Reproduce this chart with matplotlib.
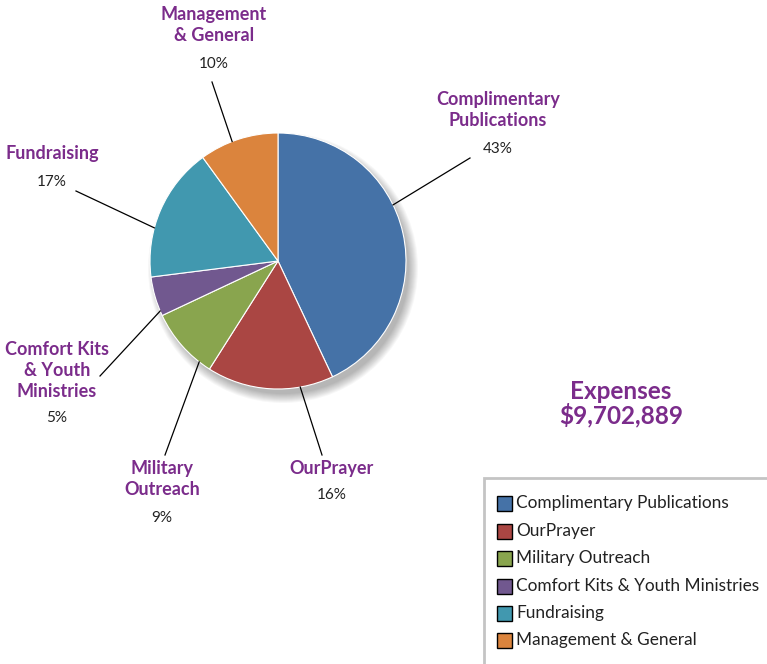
import matplotlib
matplotlib.use("Agg")
import numpy as np
import matplotlib.pyplot as plt
from matplotlib.patches import Circle, Rectangle

W, H = 767, 664

categories = ["Complimentary Publications", "OurPrayer", "Military Outreach",
              "Comfort Kits & Youth Ministries", "Fundraising", "Management & General"]
percents = [43, 16, 9, 5, 17, 10]
callout_names = ["Complimentary\nPublications", "OurPrayer", "Military\nOutreach",
                 "Comfort Kits\n& Youth\nMinistries", "Fundraising", "Management\n& General"]
colors = ["#4572A7", "#AA4643", "#89A54E", "#71588F", "#4198AF", "#DB843D"]
total_label = "Expenses\n$9,702,889"

PURPLE = "#7B2C8B"
plt.rcParams["font.family"] = ["Lato", "DejaVu Sans"]


def px(x, y):
    # image pixel coords (y down) -> axes data coords (y up)
    return x, H - y


fig = plt.figure(figsize=(W / 100, H / 100), dpi=100)
ax = fig.add_axes([0, 0, 1, 1])

cx, cy = px(278, 261)
r = 128

# soft drop shadow behind the pie
for k in range(10):
    ax.add_patch(Circle((cx + 5, cy - 7), r + 7 - k, color="black",
                        alpha=0.03, lw=0, zorder=1))

wedges, _ = ax.pie(percents, colors=colors, startangle=90, counterclock=False,
                   center=(cx, cy), radius=r, frame=True,
                   wedgeprops=dict(edgecolor="white", linewidth=0.8, zorder=2))
ax.set_xlim(0, W)
ax.set_ylim(0, H)
ax.set_aspect("equal")
ax.set_axis_off()

# name block top (pixels), percent y, leader start (pixels),
# rim angle where the leader touches (degrees clockwise from 12 o'clock)
layout = [
    ((498, 91), 149, (470, 158), 64),
    ((332, 460), 495, (322, 455), 170),
    ((162, 460), 518, (165, 455), 218),
    ((57, 341), 418, (100, 376), 247),
    ((52, 145), 182, (76, 191), 285),
    ((214, 6), 64, (212, 82), 339),
]

for name, pct, (tpos, pct_y, p0, rim) in zip(callout_names, percents, layout):
    x, y = px(*tpos)
    ax.text(x, y, name, ha="center", va="top", fontsize=13, fontweight="bold",
            color=PURPLE, linespacing=1.28)
    ax.text(*px(tpos[0], pct_y), f"{pct}%", ha="center", va="center",
            fontsize=11, color="#222222")
    a = np.deg2rad(rim)
    x1, y1 = cx + r * np.sin(a), cy + r * np.cos(a)
    x0, y0 = px(*p0)
    ax.plot([x0, x1], [y0, y1], color="black", lw=0.9, zorder=3)

ax.text(*px(621, 404), total_label, ha="center", va="center", fontsize=17.5,
        fontweight="bold", color=PURPLE, linespacing=1.0)

# legend box running off the bottom-right edge
ax.add_patch(Rectangle(px(484, H + 5), W, H - 478 + 5, fill=False,
                       edgecolor="#c4c4c4", lw=2, zorder=4))
row_y = [503, 531, 558, 586, 613, 640]
for name, col, yy in zip(categories, colors, row_y):
    x, y = px(497, yy + 8)
    ax.add_patch(Rectangle((x, y), 15, 15, facecolor=col, edgecolor="black",
                           lw=1, zorder=5))
    ax.text(*px(516, yy), name, ha="left", va="center", fontsize=12.4,
            color="#222222")

fig.savefig("out.png", dpi=100)
